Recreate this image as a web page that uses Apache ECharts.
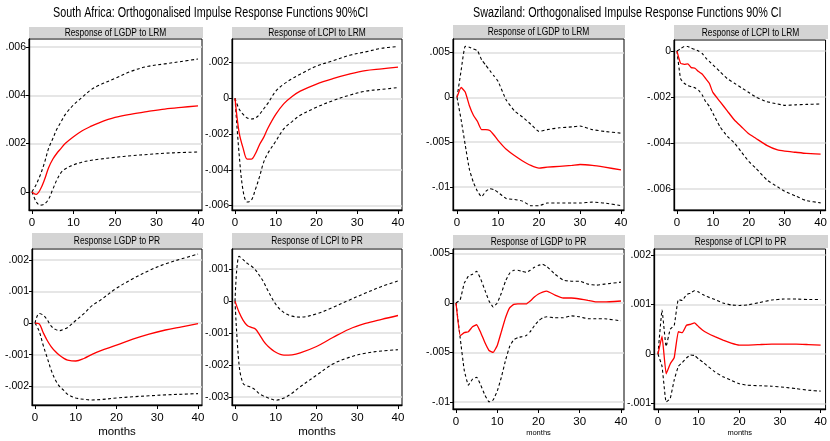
<!DOCTYPE html>
<html><head><meta charset="utf-8">
<script src="https://cdn.jsdelivr.net/npm/echarts@6/dist/echarts.min.js"></script>
<style>html,body{margin:0;padding:0;background:#fff}#c{width:830px;height:441px}</style>
</head><body><div id="c"></div>
<script>
// ---------- DATA ----------
const monthTicks = [0, 10, 20, 30, 40];
const titleSA = 'South Africa: Orthogonalised Impulse Response Functions 90%CI';
const titleSZ = 'Swaziland: Orthogonalised Impulse Response Functions 90% CI';
const panelTitles = ['Response of LGDP to LRM','Response of LCPI to LRM','Response of LGDP to LRM','Response of LCPI to LRM',
  'Response LGDP to PR','Response of LCPI to PR','Response of LGDP to PR','Response of LCPI to PR'];

// South Africa, LGDP to LRM
const sa1Months = [0,1,2,3,4,5,6,7,8,10,12,14,16,20,24,28,32,36,40];
const sa1Irf = [0,-0.0001,0.0001,0.0005,0.0010,0.00135,0.0016,0.0018,0.0020,0.00228,0.00252,0.0027,0.00285,0.00308,0.00322,0.00333,0.00343,0.0035,0.00356];
const sa1Hi  = [0,0.0003,0.0007,0.0012,0.0018,0.0022,0.0026,0.0029,0.0032,0.0036,0.0039,0.0042,0.0044,0.0047,0.0050,0.0052,0.0053,0.0054,0.0055];
const sa1Lo  = [0,-0.0004,-0.00055,-0.0005,-0.0003,0.0001,0.0005,0.0008,0.00095,0.00112,0.00123,0.0013,0.00135,0.00143,0.0015,0.00155,0.0016,0.00163,0.00165];
// South Africa, LCPI to LRM
const sa2Months = [0,1,2,3,4,5,6,7,8,10,12,14,16,20,24,28,32,36,40];
const sa2Irf = [0,-0.0019,-0.0028,-0.0034,-0.0034,-0.0031,-0.0026,-0.0022,-0.0017,-0.0009,-0.0003,0.0001,0.0004,0.0008,0.0011,0.00135,0.00155,0.00165,0.00175];
const sa2Hi  = [0,-0.0006,-0.0009,-0.0011,-0.00116,-0.0011,-0.0009,-0.0006,-0.0003,0.0004,0.0008,0.0011,0.00135,0.0018,0.0021,0.0024,0.0026,0.0028,0.0029];
const sa2Lo  = [0,-0.0031,-0.0052,-0.0058,-0.0057,-0.0051,-0.0044,-0.0036,-0.0031,-0.0024,-0.0017,-0.0013,-0.00095,-0.0005,-0.00013,0.00017,0.0004,0.0005,0.0006];
// Swaziland, LGDP to LRM
const sz1Months = [0,1,2,3,4,5,6,7,8,9,10,12,14,16,18,20,22,25,28,30,33,36,40];
const sz1Irf = [0,0.0011,0.0006,-0.0009,-0.002,-0.0027,-0.0036,-0.0036,-0.0037,-0.0042,-0.0048,-0.0058,-0.0065,-0.0071,-0.0076,-0.0079,-0.0078,-0.0077,-0.0076,-0.0075,-0.0076,-0.0078,-0.0081];
const sz1Hi  = [0,0.003,0.0057,0.0056,0.0054,0.0052,0.0042,0.0036,0.003,0.0024,0.0018,-0.0003,-0.0015,-0.0022,-0.003,-0.0038,-0.0036,-0.0034,-0.0033,-0.0032,-0.0036,-0.0038,-0.004];
const sz1Lo  = [0,-0.0025,-0.0053,-0.008,-0.0095,-0.0105,-0.0111,-0.0105,-0.0102,-0.0103,-0.0106,-0.0113,-0.0114,-0.0116,-0.0121,-0.0121,-0.0118,-0.0118,-0.0118,-0.0118,-0.0117,-0.0118,-0.0121];
// Swaziland, LCPI to LRM
const sz2Months = [0,1,2,3,4,5,6,7,8,9,10,12,14,16,18,20,22,25,28,30,33,36,40];
const sz2Irf = [0,-0.00053,-0.00058,-0.00056,-0.00072,-0.00075,-0.00089,-0.001,-0.0012,-0.0014,-0.0018,-0.0022,-0.0026,-0.003,-0.0033,-0.0036,-0.0038,-0.0041,-0.0043,-0.00435,-0.0044,-0.00445,-0.00448];
const sz2Hi  = [0,0.0001,0.0002,0.0002,0.00012,0.00007,0,-0.0001,-0.0003,-0.00045,-0.0006,-0.0009,-0.0012,-0.0014,-0.0016,-0.0018,-0.002,-0.0022,-0.0023,-0.00236,-0.00234,-0.00232,-0.0023];
const sz2Lo  = [0,-0.0012,-0.0014,-0.0015,-0.00155,-0.0016,-0.0017,-0.0019,-0.0022,-0.0024,-0.0027,-0.0033,-0.0037,-0.004,-0.0044,-0.0048,-0.0051,-0.0056,-0.0059,-0.0061,-0.0063,-0.0065,-0.0066];
// South Africa, LGDP to PR
const sa3Months = [0,1,2,3,4,5,6,7,8,10,12,14,16,20,24,28,32,36,40];
const sa3Irf = [0,-0.00002,-0.0003,-0.00055,-0.00075,-0.0009,-0.00102,-0.00111,-0.00117,-0.0012,-0.00112,-0.00099,-0.00088,-0.0007,-0.00051,-0.00035,-0.00022,-0.00012,-0.00002];
const sa3Hi  = [0,0.0003,0.00025,0.0001,-0.0001,-0.0002,-0.00024,-0.0002,-0.00014,0.00008,0.0003,0.00055,0.00072,0.0011,0.0014,0.00166,0.00187,0.00203,0.00218];
const sa3Lo  = [0,-0.00025,-0.0007,-0.0011,-0.0015,-0.0018,-0.002,-0.00212,-0.00225,-0.00237,-0.00241,-0.00243,-0.00242,-0.00237,-0.00233,-0.0023,-0.00227,-0.00225,-0.00223];
// South Africa, LCPI to PR
const sa4Months = [0,1,2,3,4,5,6,7,8,10,12,14,16,20,24,28,32,36,40];
const sa4Irf = [0,-0.00035,-0.0006,-0.00076,-0.00082,-0.00087,-0.00105,-0.00125,-0.0014,-0.0016,-0.00169,-0.00168,-0.00162,-0.00142,-0.00114,-0.00088,-0.0007,-0.00057,-0.00045];
const sa4Hi  = [0,0.0014,0.0013,0.00118,0.0011,0.00098,0.0008,0.0006,0.00035,-0.0001,-0.00036,-0.00047,-0.0005,-0.0004,-0.0002,0.00003,0.00025,0.00046,0.00063];
const sa4Lo  = [0,-0.002,-0.00258,-0.00265,-0.0027,-0.00278,-0.0029,-0.00297,-0.00302,-0.0031,-0.00303,-0.00288,-0.00268,-0.00232,-0.00197,-0.00176,-0.00163,-0.00156,-0.00152];
// Swaziland, LGDP to PR
const sz3Months = [0,1,2,3,4,5,6,7,8,9,10,11,12,13,14,15,16,17,18,19,20,21,22,24,26,28,30,32,34,36,40];
const sz3Irf = [0,-0.0033,-0.003,-0.0029,-0.0024,-0.0022,-0.003,-0.004,-0.0048,-0.005,-0.0043,-0.0029,-0.0015,-0.0005,-0.00015,-0.0001,-0.0001,-0.0001,0.0002,0.0006,0.0009,0.0011,0.0012,0.0008,0.0005,0.0005,0.0004,0.00025,0.0001,0.0001,0.0002];
const sz3Hi  = [0,0.0003,0.002,0.0027,0.0029,0.0032,0.0024,0.0013,0.0002,-0.0004,0,0.001,0.0022,0.003,0.0033,0.0033,0.0032,0.0031,0.0033,0.0036,0.0038,0.0039,0.0037,0.0029,0.0023,0.0022,0.0022,0.0019,0.0018,0.0019,0.0021];
const sz3Lo  = [0,-0.0035,-0.0068,-0.0083,-0.0077,-0.0075,-0.0083,-0.0093,-0.01,-0.0098,-0.0089,-0.0075,-0.0058,-0.0044,-0.0037,-0.0035,-0.0034,-0.0033,-0.0029,-0.0023,-0.0018,-0.0015,-0.0014,-0.0015,-0.0015,-0.0013,-0.0014,-0.0016,-0.0016,-0.0016,-0.0018];
// Swaziland, LCPI to PR
const sz4Months = [0,1,2,3,4,5,6,7,8,9,10,11,12,14,16,18,20,22,25,28,31,34,37,40];
const sz4Irf = [0,0.00036,-0.0004,-0.0002,-0.00007,0.00045,0.00043,0.00058,0.0006,0.00063,0.00055,0.00048,0.00043,0.00035,0.00028,0.00022,0.00018,0.00018,0.00019,0.0002,0.0002,0.0002,0.00019,0.00018];
const sz4Hi  = [0,0.00089,0.00015,0.0005,0.00058,0.0011,0.00108,0.0012,0.00123,0.00128,0.00125,0.0012,0.00116,0.0011,0.00103,0.00099,0.00098,0.00099,0.00104,0.00109,0.00111,0.00111,0.0011,0.0011];
const sz4Lo  = [0,-0.00025,-0.00097,-0.0009,-0.00052,-0.00025,-0.00017,-0.00008,-0.00002,-0.00003,-0.0001,-0.00016,-0.00023,-0.00036,-0.00046,-0.00053,-0.0006,-0.00063,-0.00064,-0.00065,-0.00067,-0.0007,-0.00073,-0.00075];

const yTicks1 = [0,0.002,0.004,0.006];
const yTicks2 = [-0.006,-0.004,-0.002,0,0.002];
const yTicks3 = [-0.01,-0.005,0,0.005];
const yTicks4 = [-0.006,-0.004,-0.002,0];
const yTicks5 = [-0.002,-0.001,0,0.001,0.002];
const yTicks6 = [-0.003,-0.002,-0.001,0,0.001];
const yTicks7 = [-0.01,-0.005,0,0.005];
const yTicks8 = [-0.001,0,0.001,0.002];

// ---------- LAYOUT ----------
const FONT = '"Liberation Sans",Arial,sans-serif';
const panels = [
  {m:sa1Months,irf:sa1Irf,hi:sa1Hi,lo:sa1Lo,yt:yTicks1,box:[29,39,173,171],hdr:27,xr:[-0.72,40.96],yr:[-0.00075,0.00633],smooth:0.35,bottom:false},
  {m:sa2Months,irf:sa2Irf,hi:sa2Hi,lo:sa2Lo,yt:yTicks2,box:[232,39,170,171],hdr:27,xr:[-0.74,40.98],yr:[-0.00625,0.00332],smooth:0.35,bottom:false},
  {m:sz1Months,irf:sz1Irf,hi:sz1Hi,lo:sz1Lo,yt:yTicks3,box:[453,39,171,171],hdr:25,xr:[-0.98,40.73],yr:[-0.01258,0.00652],smooth:0.15,bottom:false},
  {m:sz2Months,irf:sz2Irf,hi:sz2Hi,lo:sz2Lo,yt:yTicks4,box:[674,40,153,170],hdr:25,xr:[-0.83,41.38],yr:[-0.00691,0.00048],smooth:0.15,bottom:false},
  {m:sa3Months,irf:sa3Irf,hi:sa3Hi,lo:sa3Lo,yt:yTicks5,box:[32,249,170,156],hdr:233,xr:[-0.74,40.98],yr:[-0.00259,0.00234],smooth:0.35,bottom:true,mSize:11.5},
  {m:sa4Months,irf:sa4Irf,hi:sa4Hi,lo:sa4Lo,yt:yTicks6,box:[232,249,170,156],hdr:233,xr:[-0.74,40.98],yr:[-0.00325,0.00163],smooth:0.35,bottom:true,mSize:11.5},
  {m:sz3Months,irf:sz3Irf,hi:sz3Hi,lo:sz3Lo,yt:yTicks7,box:[453,249,171,160],hdr:235,xr:[-0.73,40.73],yr:[-0.01071,0.00545],smooth:0.1,bottom:true,mSize:7.5},
  {m:sz4Months,irf:sz4Irf,hi:sz4Hi,lo:sz4Lo,yt:yTicks8,box:[654,249,173,160],hdr:235,xr:[-0.98,41.22],yr:[-0.00111,0.00212],smooth:0.1,bottom:true,mSize:7.5}
];

function fmt(v){ if (Math.abs(v) < 1e-12) return '0'; return String(+v.toFixed(6)).replace('0.', '.'); }
const zip = (m, v) => m.map((x, i) => [x, v[i]]);

const grid = [], xAxis = [], yAxis = [], series = [], graphic = [];
panels.forEach((p, i) => {
  const [l, t, w, h] = p.box;
  grid.push({left:l, top:t, width:w, height:h, show:true, borderColor:'#000', borderWidth:1, backgroundColor:'#fff'});
  xAxis.push({type:'value', gridIndex:i, min:p.xr[0], max:p.xr[1],
    axisLine:{show:true, onZero:false, lineStyle:{color:'#000', width:1.3}},
    axisTick:{show:true, length:4, customValues:monthTicks, lineStyle:{color:'#000'}},
    axisLabel:{customValues:monthTicks, color:'#000', fontSize:11.5, fontFamily:FONT, margin:7},
    splitLine:{show:false},
    name: p.bottom ? 'months' : '', nameLocation:'middle', nameGap: p.mSize < 10 ? 19 : 21,
    nameTextStyle:{color:'#000', fontSize:p.mSize||12, fontFamily:FONT}
  });
  yAxis.push({type:'value', gridIndex:i, min:p.yr[0], max:p.yr[1],
    axisLine:{show:true, onZero:false, lineStyle:{color:'#000', width:1.3}},
    axisTick:{show:true, length:3, customValues:p.yt, lineStyle:{color:'#000'}},
    axisLabel:{customValues:p.yt, color:'#000', fontSize:10.5, fontFamily:FONT, margin:3, formatter:fmt},
    splitLine:{show:true, lineStyle:{color:'#dedede', width:1.5}}
  });
  const common = {xAxisIndex:i, yAxisIndex:i, type:'line', showSymbol:false, symbol:'none', smooth:p.smooth, silent:true, animation:false};
  series.push(Object.assign({}, common, {data:zip(p.m, p.hi), z:3, lineStyle:{color:'#000', width:1.1, type:[3,2.5]}}));
  series.push(Object.assign({}, common, {data:zip(p.m, p.lo), z:3, lineStyle:{color:'#000', width:1.1, type:[3,2.5]}}));
  series.push(Object.assign({}, common, {data:zip(p.m, p.irf), z:4, lineStyle:{color:'#ff0000', width:1.3, type:'solid'}}));
  graphic.push({type:'rect', left:l, top:p.hdr, shape:{width:w+1, height:t-p.hdr-1}, style:{fill:'#d4d4d4'}, silent:true});
  graphic.push({type:'text', x:l+w/2, y:p.hdr+(t-p.hdr)/2, scaleX:0.73, style:{text:panelTitles[i], fill:'#000', font:'11.5px '+FONT, textAlign:'center', textVerticalAlign:'middle'}, silent:true});
});
graphic.push({type:'text', x:53, y:13, scaleX:0.77, style:{text:titleSA, fill:'#000', font:'14px '+FONT, textAlign:'left', textVerticalAlign:'middle'}});
graphic.push({type:'text', x:473, y:13, scaleX:0.77, style:{text:titleSZ, fill:'#000', font:'14px '+FONT, textAlign:'left', textVerticalAlign:'middle'}});

const chart = echarts.init(document.getElementById('c'), null, {renderer:'canvas'});
chart.setOption({animation:false, backgroundColor:'#fff', grid, xAxis, yAxis, series, graphic});
</script></body></html>
